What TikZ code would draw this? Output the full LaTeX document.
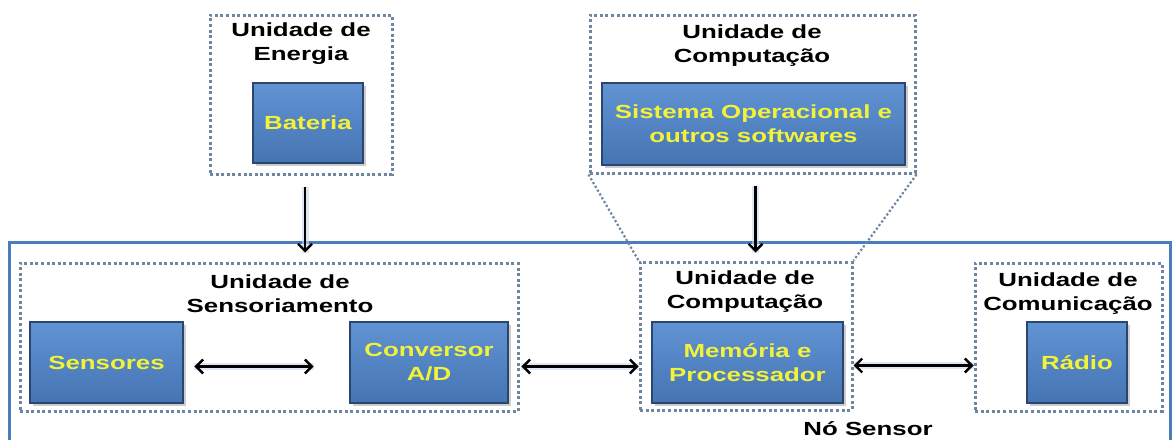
\documentclass[tikz,border=0pt]{standalone}
\usepackage{fontspec}
\newfontfamily\tf{Liberation Sans}[FakeStretch=1.36]
\usetikzlibrary{arrows.meta,shadows}
\definecolor{boxtop}{HTML}{6193D3}
\definecolor{boxbot}{HTML}{4574B2}
\definecolor{boxline}{HTML}{2B466E}
\definecolor{txtyel}{HTML}{F2F23A}
\definecolor{dotcol}{HTML}{6F86A2}
\definecolor{outblue}{HTML}{4A7EBB}
\begin{document}
\begin{tikzpicture}[x=1pt,y=-1pt,
  unitbox/.style={draw=boxline, line width=2.8pt, top color=boxtop, bottom color=boxbot,
    drop shadow={opacity=0.4, shadow xshift=3pt, shadow yshift=-3pt},
    text=txtyel, font=\tf\bfseries\fontsize{19}{24}\selectfont, align=center, inner sep=0pt},
  frame/.style={draw=dotcol, line width=3pt, dash pattern=on 3pt off 2.6pt, inner sep=0pt},
  title/.style={font=\tf\bfseries\fontsize{19}{24}\selectfont, align=center, text=black},
  conn/.style={draw=black, line width=2.6pt, -{Straight Barb[length=7pt,width=14pt,line width=2.4pt]},
    preaction={draw=outblue!30, line width=7pt, -, opacity=0.6}},
  bconn/.style={conn, {Straight Barb[length=7pt,width=14pt,line width=2.4pt]}-{Straight Barb[length=7pt,width=14pt,line width=2.4pt]}}
]
\useasboundingbox (0,0) rectangle (1174,439);
\fill[white] (0,0) rectangle (1174,439);

% outer node
\node[draw=outblue, line width=3pt, minimum width=1161pt, minimum height=203pt, inner sep=0pt] (outer) at (589.5,343.5) {};

% frames
\node[frame, minimum width=182pt, minimum height=159pt] (efr) at (301,94.5) {};
\node[frame, minimum width=325pt, minimum height=158pt] (cfr1) at (752.5,94) {};
\node[frame, minimum width=498pt, minimum height=148pt] (sfr) at (269,337) {};
\node[frame, minimum width=212pt, minimum height=148pt] (cfr2) at (746,336) {};
\node[frame, minimum width=187pt, minimum height=148pt] (mfr) at (1068.5,337) {};

% diagonal dotted lines
\draw[draw=dotcol, line width=2.2pt, dash pattern=on 2.2pt off 2.2pt] (cfr1.south west) -- (cfr2.north west);
\draw[draw=dotcol, line width=2.2pt, dash pattern=on 2.2pt off 2.2pt] (cfr1.south east) -- (cfr2.north east);

% titles
\node[title] (t1) at (301,44) {Unidade de\\Energia};
\node[title] (t2) at (752,46) {Unidade de\\Computação};
\node[title] (t3) at (280,294) {Unidade de\\Sensoriamento};
\node[title] (t4) at (745,292) {Unidade de\\Computação};
\node[title] (t5) at (1068,294) {Unidade de\\Comunicação};
\node[title] (ns) at (868,428.5) {Nó Sensor};

% boxes
\node[unitbox, minimum width=110pt, minimum height=80pt] (bat) at (308,123) {Bateria};
\node[unitbox, minimum width=303pt, minimum height=82pt] (sis) at (753.5,124) {Sistema Operacional e\\outros softwares};
\node[unitbox, minimum width=153pt, minimum height=81pt] (sens) at (106.5,362.5) {Sensores};
\node[unitbox, minimum width=158pt, minimum height=81pt] (conv) at (429,362.5) {Conversor\\A/D};
\node[unitbox, minimum width=191pt, minimum height=81pt] (mem) at (747.5,362.5) {Memória e\\Processador};
\node[unitbox, minimum width=100pt, minimum height=81pt] (rad) at (1077,362.5) {Rádio};

% connectors
\draw[conn] ([xshift=4pt,yshift=-11pt]efr.south) -- ([xshift=4pt,yshift=-12pt]efr.south |- outer.north);
\draw[conn] ([xshift=3pt,yshift=-11pt]cfr1.south) -- ([xshift=3pt,yshift=-12pt]cfr1.south |- outer.north);
\draw[bconn] ([xshift=10pt,yshift=-4pt]sens.east) -- ([xshift=-35pt,yshift=-4pt]conv.west);
\draw[bconn] ([xshift=12pt,yshift=-4pt]conv.east) -- ([yshift=-4pt]conv.east -| cfr2.west);
\draw[bconn] ([yshift=-3pt]mem.east -| cfr2.east) -- ([yshift=-3pt]mem.east -| mfr.west);
\end{tikzpicture}
\end{document}
